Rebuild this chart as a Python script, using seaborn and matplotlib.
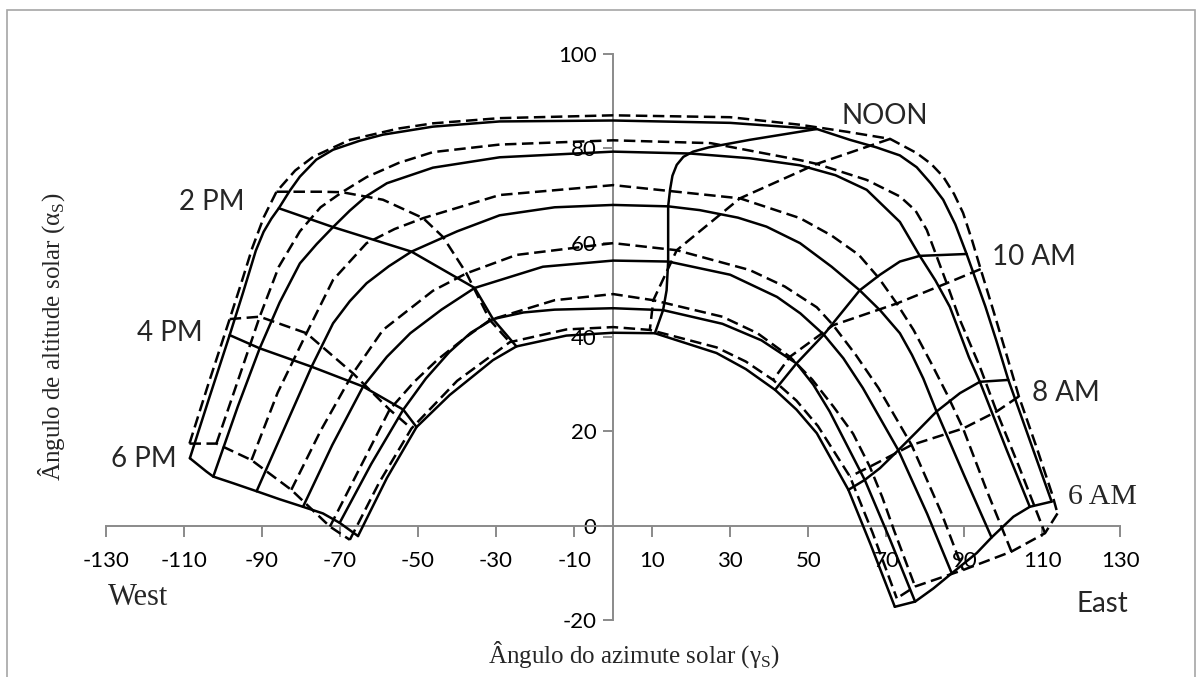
import numpy as np
import pandas as pd
import matplotlib
matplotlib.use('Agg')
import matplotlib.pyplot as plt
import seaborn as sns
from matplotlib.patches import Rectangle

# day paths, outermost to innermost, each from the 6 PM end to the 6 AM end
solid_az = [
    [-108.5, -103.5, -98.3, -94.8, -91.6, -89.6, -87.6, -85.7, -82.9, -80.3, -76.1, -71.8, -65.0, -59.0, -46.2, -29.1, 0.0, 30.0, 52.2, 60.7, 67.5, 73.5, 77.8, 81.4, 84.6, 87.7, 90.6, 95.4, 98.2, 101.3, 106.8, 112.4],
    [-102.5, -96.2, -90.6, -85.5, -80.3, -76.0, -71.8, -67.5, -63.2, -58.0, -46.2, -29.1, 0.0, 19.7, 35.0, 47.9, 57.0, 65.0, 73.5, 78.6, 82.6, 86.3, 91.2, 94.0, 100.9, 106.8],
    [-91.4, -84.3, -77.3, -71.8, -67.5, -63.2, -57.5, -51.7, -40.0, -29.1, -15.0, 0.0, 14.1, 22.2, 32.0, 39.3, 47.9, 56.0, 63.2, 68.5, 73.5, 76.6, 79.5, 82.9, 90.0, 97.0],
    [-79.5, -72.0, -64.1, -58.0, -52.0, -44.0, -35.5, -18.0, 0.0, 14.1, 30.0, 42.0, 48.0, 54.0, 59.0, 64.0, 73.1, 80.5, 86.8],
    [-70.1, -62.0, -53.8, -48.0, -42.0, -36.5, -30.8, -23.0, -15.0, 0.0, 12.8, 28.0, 38.0, 47.0, 51.3, 55.5, 64.5, 71.0, 77.4],
    [-65.4, -58.0, -50.4, -41.9, -30.8, -24.8, -12.0, 0.0, 10.7, 26.5, 34.0, 41.5, 47.0, 52.2, 60.3, 66.0, 72.2],
]
solid_alt = [
    [14.3, 27.2, 40.4, 49.6, 58.3, 62.3, 65.1, 67.3, 71.0, 74.0, 77.6, 79.7, 81.6, 82.9, 84.6, 85.7, 85.9, 85.4, 84.1, 81.8, 80.2, 78.5, 76.0, 72.6, 69.1, 63.9, 57.6, 46.5, 39.3, 30.9, 18.1, 5.1],
    [10.4, 25.3, 37.6, 47.3, 55.6, 59.7, 63.3, 66.8, 69.9, 72.6, 75.9, 78.1, 79.3, 78.9, 77.9, 76.4, 74.3, 71.2, 64.4, 57.2, 52.0, 46.4, 35.7, 30.5, 16.0, 4.0],
    [7.3, 20.6, 33.7, 42.9, 47.6, 51.4, 55.0, 58.1, 62.4, 65.8, 67.5, 68.0, 67.7, 66.9, 65.3, 63.4, 59.9, 54.9, 49.9, 45.6, 40.8, 36.2, 31.2, 24.2, 10.6, -2.5],
    [4.0, 17.1, 29.5, 35.8, 40.8, 45.8, 50.4, 54.9, 56.2, 56.0, 53.2, 48.5, 45.0, 40.5, 35.5, 29.2, 16.0, 2.5, -10.1],
    [0.6, 13.1, 24.6, 31.2, 36.8, 40.9, 43.8, 45.2, 45.8, 46.1, 45.7, 42.8, 39.3, 34.4, 29.9, 24.2, 9.7, -3.0, -16.1],
    [-2.2, 10.1, 20.9, 27.7, 35.1, 38.0, 40.3, 40.9, 40.8, 36.6, 33.2, 28.8, 24.6, 19.6, 7.6, -4.0, -17.2],
]
dashed_az = [
    [-108.6, -103.7, -98.3, -95.3, -92.5, -89.5, -86.3, -81.5, -76.9, -67.5, -55.0, -46.2, -29.1, 0.0, 30.0, 47.9, 60.0, 71.0, 77.8, 81.5, 84.6, 87.4, 89.7, 92.0, 94.2, 97.6, 101.0, 104.0, 108.5, 112.6, 113.9],
    [-101.7, -96.0, -90.6, -85.7, -80.3, -75.0, -69.5, -63.2, -55.0, -46.2, -29.1, 0.0, 25.0, 47.9, 52.2, 65.0, 73.5, 77.5, 80.4, 85.5, 88.9, 94.0, 98.3, 104.0, 110.7],
    [-92.7, -86.0, -78.6, -71.8, -63.2, -56.0, -48.7, -29.1, 0.0, 32.5, 47.9, 56.0, 63.0, 68.0, 72.7, 77.0, 81.5, 85.5, 89.7, 95.7, 102.1],
    [-82.5, -75.0, -66.7, -59.0, -46.2, -37.6, -24.8, 0.0, 16.3, 35.0, 44.0, 52.2, 56.4, 62.2, 68.0, 76.5, 84.0, 89.7],
    [-72.6, -65.0, -57.3, -51.0, -45.0, -38.0, -31.6, -15.0, 0.0, 10.3, 28.0, 37.0, 45.3, 51.0, 56.5, 61.5, 65.8, 69.0, 72.0, 77.4],
    [-67.5, -60.0, -51.7, -40.0, -26.5, -12.0, 0.0, 9.4, 26.5, 34.0, 41.0, 47.0, 52.5, 60.7, 66.5, 72.7],
]
dashed_alt = [
    [17.4, 30.2, 43.8, 51.5, 58.9, 65.5, 70.8, 75.3, 78.2, 81.8, 84.2, 85.3, 86.4, 87.0, 86.6, 85.0, 83.5, 82.0, 79.0, 76.7, 74.0, 70.3, 66.3, 60.5, 54.4, 45.2, 35.8, 27.4, 16.7, 6.5, 2.6],
    [17.4, 31.2, 44.3, 54.9, 62.4, 67.5, 70.7, 73.9, 76.9, 79.2, 80.8, 81.7, 81.1, 77.5, 76.7, 73.3, 69.8, 66.8, 62.7, 51.4, 43.6, 33.7, 24.2, 12.6, -1.6],
    [13.9, 28.2, 40.8, 52.1, 59.9, 62.9, 65.2, 70.1, 72.2, 69.4, 65.2, 61.5, 57.4, 52.6, 47.1, 41.5, 34.5, 28.0, 20.6, 7.6, -5.5],
    [7.6, 20.1, 32.3, 41.5, 49.8, 53.5, 57.4, 59.9, 58.4, 54.2, 50.7, 46.3, 42.5, 36.2, 29.2, 17.1, 3.0, -9.4],
    [-0.2, 12.1, 24.6, 30.5, 35.2, 39.8, 43.6, 47.8, 49.1, 47.8, 44.3, 40.8, 35.8, 31.0, 25.2, 19.5, 12.5, 6.0, -1.0, -12.9],
    [-3.0, 9.1, 20.6, 30.7, 38.9, 41.6, 42.1, 41.5, 37.8, 34.8, 30.9, 26.5, 21.1, 10.4, -1.5, -15.4],
]

# hour lines, each from the outermost path to the innermost
hour_names = ['6 PM', '4 PM', '2 PM', 'NOON', '10 AM', '8 AM', '6 AM']
solid_hour_az = [
    [-108.5, -104.3, -102.5, -97.4, -91.4, -85.5, -79.5, -74.4, -70.1, -65.4],
    [-98.3, -90.6, -77.3, -64.1, -53.8, -50.4],
    [-85.7, -71.8, -51.7, -35.5, -30.8, -24.8],
    [52.2, 35.0, 24.5, 20.5, 18.0, 16.3, 15.2, 14.6, 14.1, 14.1, 13.7, 12.8, 10.7],
    [90.6, 78.6, 73.5, 68.4, 63.2, 54.0, 47.0, 41.5],
    [101.3, 94.0, 88.9, 82.9, 77.8, 73.1, 68.4, 64.5, 60.3],
    [112.4, 106.8, 102.6, 97.0, 93.2, 86.8, 82.1, 77.4, 72.2],
]
solid_hour_alt = [
    [14.3, 11.5, 10.4, 9.0, 7.3, 5.6, 4.0, 2.6, 0.6, -2.2],
    [40.4, 37.6, 33.7, 29.5, 24.6, 20.9],
    [67.3, 63.3, 58.1, 50.4, 43.8, 38.0],
    [84.1, 81.8, 80.2, 79.3, 78.2, 76.5, 74.2, 71.3, 67.7, 56.0, 49.9, 45.7, 40.8],
    [57.6, 57.2, 56.0, 53.2, 49.9, 40.5, 34.4, 28.8],
    [30.9, 30.5, 28.1, 24.2, 19.9, 16.0, 12.2, 9.7, 7.6],
    [5.1, 4.0, 1.9, -2.5, -5.8, -10.1, -13.3, -16.1, -17.2],
]
dashed_hour_az = [
    [-108.6, -101.7, -92.7, -82.5, -72.6, -67.5],
    [-98.3, -90.6, -78.6, -66.7, -57.3, -51.7],
    [-86.3, -75.0, -69.5, -59.0, -48.7, -43.6, -37.6, -31.6, -26.5],
    [71.0, 52.2, 32.5, 16.3, 10.3, 9.4],
    [94.2, 85.5, 72.7, 56.4, 45.3, 41.0],
    [104.0, 98.3, 89.7, 76.5, 65.8, 60.7],
    [113.9, 110.7, 102.1, 89.7, 77.4, 72.7],
]
dashed_hour_alt = [
    [17.4, 17.4, 13.9, 7.6, -0.2, -3.0],
    [43.8, 44.3, 40.8, 32.3, 24.6, 20.6],
    [70.8, 70.8, 70.7, 69.1, 65.2, 61.2, 53.5, 43.6, 38.9],
    [82.0, 76.7, 69.4, 58.4, 47.8, 41.5],
    [54.4, 51.4, 47.1, 42.5, 35.8, 30.9],
    [27.4, 24.2, 20.6, 17.1, 12.5, 10.4],
    [2.6, -1.6, -5.5, -9.4, -12.9, -15.4],
]

sns.set_theme(style='white')
plt.rcParams['font.family'] = ['Lato', 'DejaVu Sans']
plt.rcParams['axes.unicode_minus'] = False
plt.rcParams['mathtext.fontset'] = 'custom'
plt.rcParams['mathtext.rm'] = 'Liberation Serif'

SERIF = ['Liberation Serif', 'DejaVu Serif']
AXIS_GREY = '#8a8a8a'

fig = plt.figure(figsize=(11.99, 6.77), dpi=100)
ax = fig.add_axes([106 / 1199, 1 - 620 / 677, (1120.3 - 106) / 1199, (620 - 54) / 677])


def draw(az, alt, dashed):
    df = pd.DataFrame({'az': az, 'alt': alt})
    sns.lineplot(data=df, x='az', y='alt', sort=False, estimator=None,
                 color='black', linewidth=1.8, ax=ax, zorder=3)
    line = ax.lines[-1]
    line.set_solid_joinstyle('round')
    if dashed:
        line.set_dashes((4.6, 2.2))


for az, alt in zip(solid_az, solid_alt):
    draw(az, alt, False)
for az, alt in zip(dashed_az, dashed_alt):
    draw(az, alt, True)
for az, alt in zip(solid_hour_az, solid_hour_alt):
    draw(az, alt, False)
for az, alt in zip(dashed_hour_az, dashed_hour_alt):
    draw(az, alt, True)

ax.set_xlim(-130, 130)
ax.set_ylim(-20, 100)
ax.set_xticks(np.arange(-130, 131, 20))
ax.set_yticks(np.arange(-20, 101, 20))
ax.set_xlabel('')
ax.set_ylabel('')
for side in ['top', 'right']:
    ax.spines[side].set_visible(False)
ax.spines['left'].set_position(('data', 0))
ax.spines['bottom'].set_position(('data', 0))
for side in ['left', 'bottom']:
    ax.spines[side].set_color(AXIS_GREY)
    ax.spines[side].set_linewidth(1.4)
ax.tick_params(axis='both', direction='out', color=AXIS_GREY, width=1.4,
               labelsize=16, labelcolor='black', bottom=True, left=True)
ax.tick_params(axis='x', length=8, pad=10)
ax.tick_params(axis='y', length=7, pad=5)
ax.patch.set_alpha(0)

# hour labels
ax.text(-94.5, 68.6, '2 PM', fontsize=20, ha='right', va='center')
ax.text(-105.2, 40.8, '4 PM', fontsize=20, ha='right', va='center')
ax.text(-112.0, 14.2, '6 PM', fontsize=20, ha='right', va='center')
ax.text(58.6, 86.8, 'NOON', fontsize=20, ha='left', va='center')
ax.text(97.0, 57.0, '10 AM', fontsize=20, ha='left', va='center')
ax.text(107.3, 28.2, '8 AM', fontsize=20, ha='left', va='center')
ax.text(116.7, 6.1, '6 AM', fontsize=21.5, ha='left', va='center', family=SERIF)
ax.text(-129.5, -15.2, 'West', fontsize=22, ha='left', va='center', family=SERIF)
ax.text(118.8, -16.7, 'East', fontsize=20, ha='left', va='center')

fig.text(634 / 1199, 1 - 655 / 677, 'Ângulo do azimute solar (γ$_{\\mathrm{S}}$)',
         fontsize=18, ha='center', va='center', family=SERIF)
fig.text(52 / 1199, 1 - 337 / 677, 'Ângulo de altitude solar (α$_{\\mathrm{S}}$)',
         fontsize=18, ha='center', va='center', rotation=90, family=SERIF)

fig.patches.append(Rectangle((7 / 1199, -0.05), (1195 - 7) / 1199, 1.05 - 10 / 677,
                             transform=fig.transFigure, fill=False,
                             edgecolor='#a6a6a6', linewidth=1.2))

fig.savefig('out.png', dpi=100)
